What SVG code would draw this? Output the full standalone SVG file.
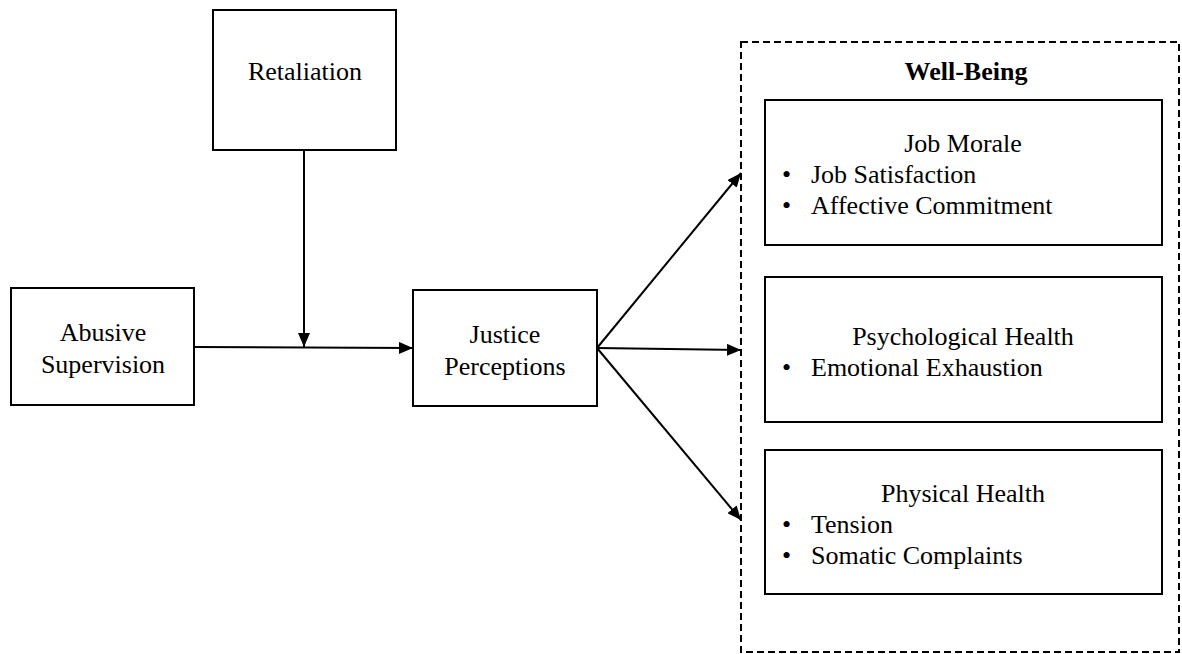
<svg xmlns="http://www.w3.org/2000/svg" width="1182" height="654" viewBox="0 0 1182 654">
<style>
.box{fill:#fff;stroke:#000;stroke-width:2}
.t{font-family:"Liberation Serif","Times New Roman",serif;font-size:26px;fill:#000}
.c{text-anchor:middle}
.b{font-weight:bold}
.ln{stroke:#000;stroke-width:2;fill:none}
</style>
<defs>
<marker id="ah" viewBox="0 0 14 12" refX="14" refY="6" markerWidth="14" markerHeight="12" markerUnits="userSpaceOnUse" orient="auto">
<path d="M0,0 L14,6 L0,12 Z" fill="#000"/>
</marker>
</defs>
<rect width="1182" height="654" fill="#fff"/>
<g id="wellbeing">
<rect x="741" y="42" width="438" height="610" fill="none" stroke="#000" stroke-width="2" stroke-dasharray="7,4"/>
<text class="t c b" x="966" y="80">Well-Being</text>
</g>
<g id="retaliation">
<rect class="box" x="213" y="10" width="183" height="140"/>
<text class="t c" x="305" y="80">Retaliation</text>
</g>
<g id="abusive">
<rect class="box" x="11" y="288" width="183" height="117"/>
<text class="t c" x="103" y="341">Abusive</text>
<text class="t c" x="103" y="373">Supervision</text>
</g>
<g id="justice">
<rect class="box" x="413" y="290" width="184" height="116"/>
<text class="t c" x="505" y="343">Justice</text>
<text class="t c" x="505" y="375">Perceptions</text>
</g>
<g id="jobmorale">
<rect class="box" x="765" y="100" width="397" height="145"/>
<text class="t c" x="963" y="152">Job Morale</text>
<text class="t" x="782" y="183">•</text>
<text class="t" x="811" y="183">Job Satisfaction</text>
<text class="t" x="782" y="214">•</text>
<text class="t" x="811" y="214">Affective Commitment</text>
</g>
<g id="psych">
<rect class="box" x="765" y="277" width="397" height="145"/>
<text class="t c" x="963" y="345">Psychological Health</text>
<text class="t" x="782" y="376">•</text>
<text class="t" x="811" y="376">Emotional Exhaustion</text>
</g>
<g id="physical">
<rect class="box" x="765" y="450" width="397" height="144"/>
<text class="t c" x="963" y="502">Physical Health</text>
<text class="t" x="782" y="533">•</text>
<text class="t" x="811" y="533">Tension</text>
<text class="t" x="782" y="564">•</text>
<text class="t" x="811" y="564">Somatic Complaints</text>
</g>
<g id="connectors">
<line class="ln" x1="194" y1="347" x2="413" y2="348" marker-end="url(#ah)"/>
<line class="ln" x1="304" y1="150" x2="304" y2="347" marker-end="url(#ah)"/>
<line class="ln" x1="597" y1="348" x2="741" y2="173" marker-end="url(#ah)"/>
<line class="ln" x1="597" y1="348" x2="741" y2="350" marker-end="url(#ah)"/>
<line class="ln" x1="597" y1="348" x2="741" y2="520" marker-end="url(#ah)"/>
</g>
</svg>
